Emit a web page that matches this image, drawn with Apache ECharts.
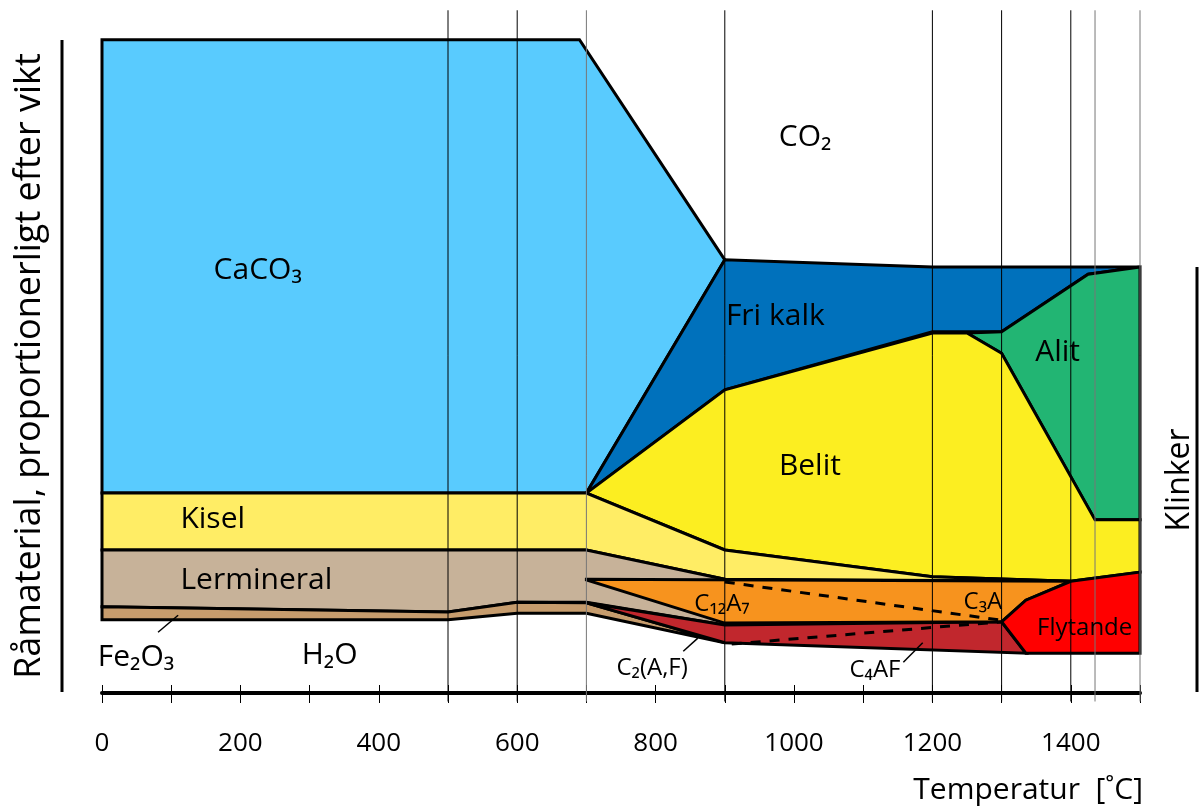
<!DOCTYPE html>
<html>
<head>
<meta charset="utf-8">
<script src="https://cdn.jsdelivr.net/npm/echarts@6/dist/echarts.min.js"></script>
<style>
html, body { margin: 0; padding: 0; background: #fff; }
#chart { width: 1200px; height: 812px; }
</style>
</head>
<body>
<div id="chart"></div>
<script>
// x = temperatur [°C], y = andel efter vikt (0 = axeln, 100 = toppen av CaCO3)
var caco3 = [[0, 100], [690, 100], [900, 66.3], [700, 30.6], [0, 30.6]];
var friKalk = [[700, 30.6], [900, 66.3], [1200, 65.2], [1500, 65.2], [1425, 64.1], [1300, 55.3], [1200, 55.3], [900, 46.4]];
var alit = [[1250, 55.1], [1300, 55.3], [1425, 64.1], [1500, 65.2], [1500, 26.5], [1435, 26.5], [1300, 52.0]];
var belit = [[700, 30.6], [900, 46.4], [1200, 55.1], [1250, 55.1], [1300, 52.0], [1435, 26.5], [1500, 26.5], [1500, 18.5], [1400, 17.1], [1200, 17.8], [900, 21.9]];
var kisel = [[0, 30.6], [700, 30.6], [900, 21.9], [1200, 17.8], [1400, 17.1], [900, 17.4], [700, 21.9], [0, 21.9]];
var lermineral = [[0, 21.9], [700, 21.9], [900, 17.4], [900, 10.4], [700, 13.9], [600, 13.9], [500, 12.4], [0, 13.2]];
var fe2o3 = [[0, 13.2], [500, 12.4], [600, 13.9], [700, 13.8], [900, 7.7], [700, 12.2], [600, 12.2], [500, 11.2], [0, 11.2]];
var c4af = [[700, 13.8], [900, 10.4], [1300, 10.9], [1335, 6.1], [900, 7.7]];
var c12a7 = [[700, 17.4], [1400, 17.1], [1335, 14.2], [1300, 10.9], [900, 10.7], [700, 17.3]];
var flytande = [[1300, 10.9], [1335, 14.2], [1400, 17.1], [1500, 18.5], [1500, 6.1], [1335, 6.1]];

var dashC12 = [[900, 17.0], [1295, 11.2]];
var dashC4 = [[910, 7.5], [1300, 10.9]];

var pointerFe = [[81, 9.3], [110, 11.9]];
var pointerC2 = [[840, 6.4], [861, 8.4]];
var pointerC4 = [[1158, 4.7], [1186, 7.7]];

var gridTemps = [500, 600, 700, 900, 1200, 1300, 1400, 1435, 1500];
var grayTemps = [700, 1435, 1500];

var labelsBig = [
  ['CaCO₃', 225, 64.7], ['CO₂', 1016, 85.1], ['Fri kalk', 973, 57.7], ['Belit', 1023, 34.7],
  ['Alit', 1381, 52.2], ['Kisel', 160, 26.5], ['Lermineral', 223, 17.3], ['Fe₂O₃', 49, 5.5], ['H₂O', 329, 5.8]
];
var labelsSmall = [
  ['C₁₂A₇', 896, 13.6], ['C₃A', 1273, 13.9], ['Flytande', 1420, 9.9], ['C₂(A,F)', 795, 3.8], ['C₄AF', 1117, 3.5]
];

var font = "'Open Sans', 'Noto Sans', sans-serif";
var chart = echarts.init(document.getElementById('chart'));

function area(name, pts, color) {
  return {
    type: 'custom', name: name, clip: false, silent: true,
    data: [pts[0]],
    renderItem: function (params, api) {
      return {
        type: 'polygon',
        shape: { points: pts.map(function (p) { return api.coord(p); }) },
        style: { fill: color, stroke: '#000', lineWidth: 3, lineJoin: 'miter', miterLimit: 3 }
      };
    }
  };
}

function seg(pts, width, dashed) {
  return {
    type: 'line', data: pts, symbol: 'none', silent: true, clip: false, z: 4,
    lineStyle: { color: '#000', width: width, type: dashed ? [10, 9] : 'solid' }
  };
}

function labels(list, size) {
  return {
    type: 'scatter', symbolSize: 0, silent: true, z: 6,
    itemStyle: { opacity: 1 },
    data: list.map(function (l) { return { name: l[0], value: [l[1], l[2]] }; }),
    label: {
      show: true, position: 'inside', formatter: '{b}',
      color: '#000', fontSize: size, fontFamily: font
    }
  };
}

var option = {
  animation: false,
  backgroundColor: '#fff',
  grid: { left: 102, right: 60, top: 7, bottom: 119 },
  xAxis: [{
    type: 'value', min: 0, max: 1500, interval: 100,
    splitLine: { show: false },
    axisLine: { lineStyle: { color: '#000', width: 4 } },
    axisTick: { length: 10, lineStyle: { color: '#000', width: 1 } },
    axisLabel: {
      margin: 38, color: '#000', fontSize: 26, fontFamily: font,
      formatter: function (v) { return v % 200 === 0 && v < 1500 ? v : ''; }
    }
  }, {
    type: 'value', min: 0, max: 1500, interval: 100, position: 'bottom',
    splitLine: { show: false },
    axisLine: { show: false },
    axisTick: { inside: true, length: 8, lineStyle: { color: '#000', width: 1 } },
    axisLabel: { show: false }
  }],
  yAxis: { type: 'value', min: 0, max: 105, show: false },
  series: [
    area('CaCO3', caco3, '#59CBFE'),
    area('Fri kalk', friKalk, '#0071BC'),
    area('Alit', alit, '#22B573'),
    area('Belit', belit, '#FCEE21'),
    area('Kisel', kisel, '#FFED65'),
    area('Lermineral', lermineral, '#C7B299'),
    area('Fe2O3', fe2o3, '#C69C6D'),
    area('C4AF', c4af, '#C1272D'),
    area('C12A7', c12a7, '#F7931E'),
    area('Flytande', flytande, '#FF0000'),
    {
      type: 'custom', clip: false, silent: true, z: 3,
      data: gridTemps.map(function (t) { return [t, 0]; }),
      renderItem: function (params, api) {
        var t = api.value(0);
        var a = api.coord([t, 104.5]);
        var b = api.coord([t, -1.3]);
        return {
          type: 'line',
          shape: { x1: a[0], y1: a[1], x2: b[0], y2: b[1] },
          style: { stroke: grayTemps.indexOf(t) >= 0 ? '#777' : '#000', lineWidth: 1 }
        };
      }
    },
    seg(dashC12, 3, true),
    seg(dashC4, 3, true),
    seg(pointerFe, 1.5, false),
    seg(pointerC2, 1.5, false),
    seg(pointerC4, 1.5, false),
    labels(labelsBig, 30),
    labels(labelsSmall, 24)
  ],
  graphic: [
    { type: 'line', shape: { x1: 62, y1: 40, x2: 62, y2: 692 }, style: { stroke: '#000', lineWidth: 3 } },
    { type: 'line', shape: { x1: 1197, y1: 267, x2: 1197, y2: 692 }, style: { stroke: '#000', lineWidth: 3 } },
    {
      type: 'text', x: 30, y: 366, rotation: Math.PI / 2,
      style: { text: 'Råmaterial, proportionerligt efter vikt', align: 'center', verticalAlign: 'middle', fontSize: 36, fontFamily: font, fill: '#000' }
    },
    {
      type: 'text', x: 1180, y: 480, rotation: Math.PI / 2,
      style: { text: 'Klinker', align: 'center', verticalAlign: 'middle', fontSize: 32, fontFamily: font, fill: '#000' }
    },
    {
      type: 'text', x: 1143, y: 790,
      style: { text: 'Temperatur  [˚C]', align: 'right', verticalAlign: 'middle', fontSize: 30, fontFamily: font, fill: '#000' }
    }
  ]
};
chart.setOption(option);
</script>
</body>
</html>
